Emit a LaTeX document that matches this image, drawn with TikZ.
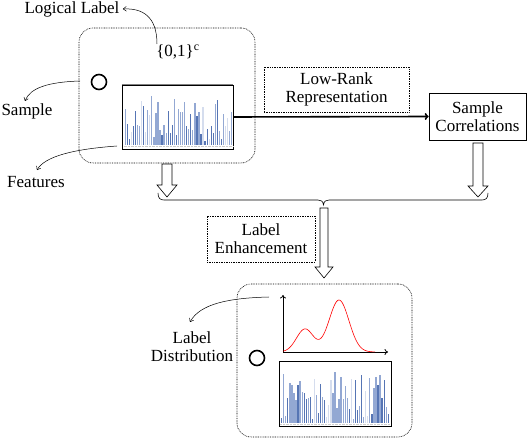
\documentclass[tikz,border=0pt]{standalone}
\usepackage{fontspec}
\setmainfont{Liberation Serif}
\usetikzlibrary{arrows.meta}
\definecolor{barA}{HTML}{5675B4}
\definecolor{barB}{HTML}{93A8D3}
\definecolor{barC}{HTML}{D5DDEE}
\pgfmathdeclarerandomlist{barcols}{{barA}{barA}{barB}{barB}{barC}}
\newcommand\mybarchart[4]{% x0, ybase, seed, n
  \pgfmathsetseed{#3}
  \foreach \i in {0,...,#4} {
    \pgfmathsetmacro\h{4+rnd*48}
    \pgfmathrandomitem{\col}{barcols}
    \fill[\col] ({#1+\i*2.05},#2) rectangle ++(1.3,-\h);
  }
  \draw[gray!40,densely dotted] (#1-1,#2+1.5) -- ({#1+#4*2.05+2},#2+1.5);
}
\begin{document}
\begin{tikzpicture}[x=1pt,y=-1pt,
  every node/.style={font=\fontsize{17}{20}\selectfont, align=center},
  dotbox/.style={draw, dash pattern=on 0.8pt off 0.9pt, line width=0.6pt, inner sep=0},
  rbox/.style={draw, dash pattern=on 0.8pt off 0.9pt, line width=0.6pt, rounded corners=14pt, inner sep=0},
  plainbox/.style={draw, line width=0.6pt, inner sep=0},
  imgbox/.style={draw, line width=0.6pt, inner sep=0, fill=white},
  curvearr/.style={-{To[length=3.5pt,width=5pt]}, line width=0.5pt},
  hollow/.style={draw, line width=0.6pt, fill=white},
  ring/.style={draw, circle, line width=1.6pt, minimum size=15pt, inner sep=0}
]
\useasboundingbox (0,0) rectangle (530,438);

% top container
\node[rbox, minimum width=176pt, minimum height=135pt] (top) at (167,95.5) {};
\node (logic) at (72,9) {Logical Label};
\node (set) at (178,52) {\{0,1\}\textsuperscript{c}};
\node[ring] (samp) at (99,82) {};
\node (sampletxt) at (27,111) {Sample};
\node (feattxt) at (36,182) {Features};
\node[imgbox, minimum width=111pt, minimum height=64pt] (feat) at (177.5,117) {};
\mybarchart{124.5}{145}{11}{52}
\draw[gray, line width=1.6pt] (feat.north west) -- (feat.north east);

% curved pointers
\coordinate (setTop) at (157,44);
\draw[curvearr] (setTop) .. controls (157,16) and (142,8) .. (logic.east);
\coordinate (topLeft) at (80,81);
\coordinate (sampEnd) at (25,101);
\draw[curvearr] (topLeft) .. controls (48,82) and (30,88) .. (sampEnd);
\coordinate (featStart) at (117,146);
\coordinate (featEnd) at (37,170);
\draw[curvearr] (featStart) .. controls (75,149) and (45,156) .. (featEnd);

% low-rank & correlations
\node[dotbox, minimum width=145pt, minimum height=45pt] (lowrank) at (336.5,89.5) {Low-Rank\\[-2pt]Representation};
\node[plainbox, minimum width=97pt, minimum height=47pt] (corr) at (477.5,116.5) {Sample\\[-2pt]Correlations};
\draw[line width=1.6pt, -{To[length=4pt,width=7pt]}] (feat.east) -- (corr.west);

% hollow arrows
\draw[hollow] (162,164) -- (162,185) -- (157,185) -- (167,197) -- (177,185) -- (172,185) -- (172,164) -- cycle;
\draw[hollow] (473,143) -- (473,186) -- (468,186) -- (478,197) -- (488,186) -- (483,186) -- (483,143) -- cycle;

% brace
\draw[line width=0.6pt] (158,193) .. controls (158,198) and (160,200) .. (164,200) -- (318,200)
  .. controls (321,200) and (323,201) .. (323.5,205)
  .. controls (324,201) and (326,200) .. (329,200) -- (482,200)
  .. controls (486,200) and (488,198) .. (488,193);

% middle hollow arrow
\draw[hollow] (320,208) -- (320,267) -- (315,267) -- (324,278) -- (333,267) -- (328,267) -- (328,208) -- cycle;
\node[dotbox, minimum width=108pt, minimum height=46pt] (enh) at (261,239) {Label\\[-2pt]Enhancement};

% bottom container
\node[rbox, minimum width=175pt, minimum height=153pt] (bot) at (324.5,360.5) {};
\node[ring] (samp2) at (257,358) {};
\node (distxt) at (192,347) {Label\\[-2pt]Distribution};
\coordinate (origin) at (283,352);
\coordinate (yend) at (283,295);
\coordinate (xend) at (388,352);
\draw[line width=0.8pt, -{To[length=3.5pt,width=6pt]}] (origin) -- (yend);
\draw[line width=0.8pt, -{To[length=3.5pt,width=6pt]}] (origin) -- (xend);
\draw[red, line width=0.6pt, smooth, domain=283:375, samples=80]
  plot (\x, {352 - 23*exp(-((\x-305)/12)^2) - 52*exp(-((\x-339)/14)^2)});
\coordinate (ldStart) at (269,297);
\coordinate (ldEnd) at (190,322);
\draw[curvearr] (ldStart) .. controls (228,298) and (200,304) .. (ldEnd);
\node[imgbox, minimum width=112pt, minimum height=65pt] (feat2) at (335,393.5) {};
\mybarchart{281}{423}{23}{52}
\end{tikzpicture}
\end{document}
